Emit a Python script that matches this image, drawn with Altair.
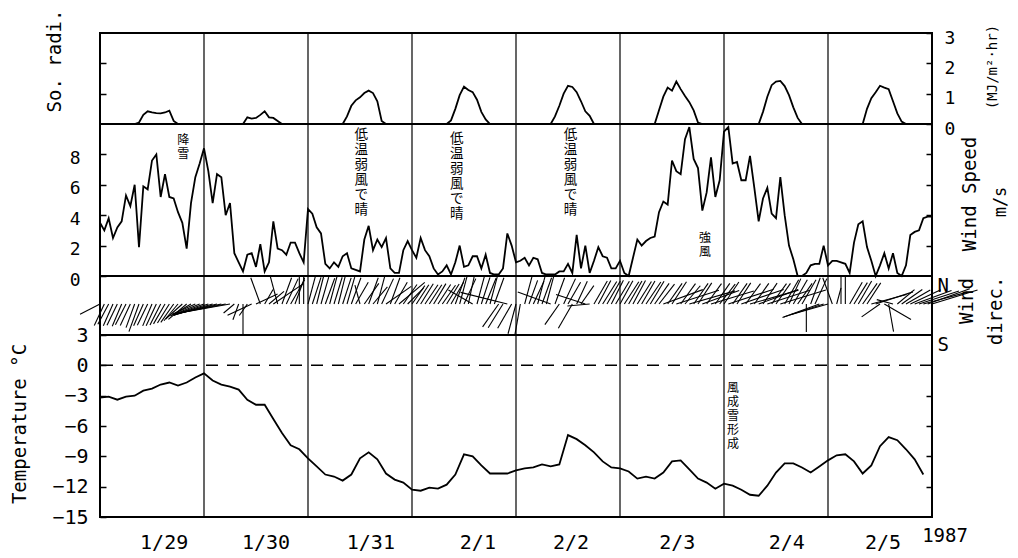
import altair as alt
import numpy as np
import pandas as pd

# ------------------------------------------------------------------ data
# hourly wind speed (m/s), hour 0 = 1/29 00:00 ... hour 192 = 2/6 00:00
wind_speed = [
    3.5, 3.0, 3.8, 2.5, 3.2, 3.6, 5.3, 4.6, 6.0, 1.9, 5.9, 5.7, 7.6, 8.0, 5.2, 6.7, 5.2, 5.1, 4.2, 3.5, 1.8, 4.8, 6.5, 7.4, 8.4,
    6.9, 4.8, 6.7, 6.5, 4.0, 4.8, 1.5, 0.9, 0.3, 1.4, 1.5, 0.6, 2.1, 0.3, 0.9, 3.6, 1.8, 1.7, 1.4, 2.2, 2.2, 1.5, 0.9, 4.4,
    4.1, 3.2, 2.8, 0.8, 0.5, 0.9, 0.6, 1.3, 1.5, 0.5, 0.4, 0.3, 2.4, 3.3, 1.7, 2.4,
    1.9, 2.5, 0.5, 0.2, 0.2, 1.7, 2.3, 1.7, 1.2, 2.5, 1.7, 1.3, 0.5, 0.1, 0.3, 0.7, 0.1, 0.9, 2.0, 0.6, 0.7, 1.3, 1.3, 0.5,
    1.4, 0.2, 0.1, 0.1, 0.5, 2.8, 2.0, 0.9,
    1.0, 1.2, 0.7, 1.2, 1.1, 0.2, 0.1, 0.1, 0.1, 0.3, 0.3, 0.8, 0.2, 2.7, 0.5, 2.0, 0.2, 1.0, 1.9, 1.3, 1.2, 0.5, 0.5, 1.0,
    0.2, 0.0, 1.2, 2.4, 2.0, 2.3, 2.5, 2.6,
    4.2, 4.9, 4.7, 7.6, 6.9, 6.7, 9.0, 9.8, 7.7, 7.1, 4.3, 5.5, 7.8, 5.2, 6.3, 9.5, 9.8, 7.4, 7.5, 6.3, 6.3, 7.9, 5.8, 3.6,
    5.1, 5.8, 4.1, 3.8, 6.5, 4.0, 2.0, 1.1,
    0.0, 0.0, 0.2, 0.7, 0.8, 0.8, 2.0, 0.7, 1.0, 1.0, 0.9, 0.8, 0.2, 2.2, 3.4, 3.6, 1.9, 1.0, 0.0, 0.7, 1.5, 0.5, 1.5, 0.2,
    0.0, 0.7, 2.7, 2.9, 3.0, 3.8, 3.9, 3.9,
]
hours = list(range(len(wind_speed)))

# temperature (deg C) every 2 hours
temp_hours = list(range(0, 191, 2))
temperature = [
    -3.2, -3.1, -3.4, -3.1, -3.0, -2.5, -2.3, -1.9, -1.7, -2.0,
    -1.7, -1.2, -0.8, -1.5, -1.9, -2.1, -2.4, -3.4, -3.9, -3.9,
    -5.3, -6.7, -7.9, -8.3, -9.2, -10.0, -10.8, -11.0, -11.4, -10.8,
    -9.2, -8.6, -9.3, -10.7, -11.3, -11.6, -12.3, -12.4, -12.1, -12.2,
    -11.8, -10.8, -8.8, -9.0, -9.9, -10.7, -10.7, -10.7, -10.4, -10.2,
    -10.1, -9.8, -10.0, -9.8, -6.9, -7.3, -7.9, -8.6, -9.5, -10.1,
    -10.2, -10.5, -11.2, -11.0, -11.2, -10.6, -9.5, -9.4, -10.3, -11.2,
    -11.6, -12.2, -11.7, -11.9, -12.3, -12.8, -12.9, -11.9, -10.6, -9.7,
    -9.7, -10.1, -10.6, -10.0, -9.4, -8.9, -8.8, -9.5, -10.7, -9.9,
    -8.0, -7.1, -7.4, -8.3, -9.3, -10.8,
]

# solar radiation (MJ/m2/hr): daytime hourly values, zero otherwise
solar_day_start = [8, 33, 56, 80, 104, 128, 152, 176]
solar_day_values = [
    [0, 0.05, 0.30, 0.42, 0.38, 0.36, 0.35, 0.38, 0.44, 0.10, 0],
    [0, 0.22, 0.18, 0.20, 0.30, 0.42, 0.22, 0.20, 0.10, 0],
    [0, 0.25, 0.60, 0.78, 0.88, 1.02, 1.10, 1.02, 0.75, 0.10, 0],
    [0, 0.12, 0.50, 0.95, 1.23, 1.12, 1.05, 0.80, 0.40, 0.15, 0],
    [0, 0.25, 0.60, 1.00, 1.26, 1.22, 1.05, 0.75, 0.42, 0.27, 0],
    [0, 0.45, 0.90, 1.20, 1.10, 1.40, 1.15, 0.92, 0.72, 0.45, 0.05, 0],
    [0, 0.40, 0.90, 1.28, 1.40, 1.42, 1.25, 0.95, 0.55, 0.20, 0],
    [0, 0.50, 0.85, 1.05, 1.26, 1.20, 1.15, 0.75, 0.35, 0.08, 0],
]

# wind direction sticks: bearing of stick (deg, 0 = N up, 90 = right) and stick length
wind_dir_deg = [
    243, 205, 208, 204, 206, 203, 207, 205, 200, 200,
    204, 206, 203, 205, 207, 210, 212, 215, 220, 228,
    230, 240, 246, 248, 250, 252, 254, 256, 258, 259,
    260, 230, 200, 180, 215, 245, 65, 340, 30, 50,
    56, 345, 20, 25, 30, 20, 0, 0, 15, 18,
    14, 16, 20, 15, 17, 14, 18, 16, 20, 30,
    345, 35, 20, 40, 15, 25, 55, 20, 30, 50,
    35, 45, 35, 33, 32, 34, 33, 31, 33, 35,
    32, 30, 20, 15, 25, 12, 300, 15, 18, 22,
    15, 20, 215, 212, 284, 210, 195, 190, 15, 20,
    25, 15, 20, 15, 290, 20, 215, 25, 30, 210,
    25, 35, 288, 265, 30, 28, 32, 30, 27, 31,
    29, 33, 30, 28, 32, 30, 34, 31, 35, 38,
    70, 35, 33, 72, 36, 40, 74, 35, 33, 70,
    36, 73, 35, 38, 34, 72, 35, 33, 71, 36,
    74, 35, 70, 34, 72, 36, 35, 73, 30, 25,
    30, 35, 30, 180, 20, 25, 250, 252, 254, 340,
    15, 0, 0, 30, 32, 30, 35, 33, 75, 72,
    235, 120, 170, 285, 50, 55, 60, 65, 70, 72,
    75, 70, 73,
]
stick_length = [
    0.8, 0.85, 0.82, 0.85, 0.84, 0.86, 0.83, 0.85, 0.9, 1.05,
    0.85, 0.84, 0.85, 0.86, 0.84, 0.82, 0.8, 0.8, 0.78, 0.8,
    0.85, 0.85, 0.9, 1.0, 1.15, 1.3, 1.45, 1.6, 1.75, 1.9,
    2.0, 0.5, 0.6, 1.1, 0.5, 0.95, 0.85, 1.0, 0.6, 0.7,
    1.3, 1.0, 1.0, 1.0, 1.0, 1.0, 1.0, 1.0, 1.0, 1.0,
    1.0, 1.0, 0.98, 1.0, 1.0, 1.0, 0.98, 1.0, 1.0, 0.9,
    0.7, 0.9, 1.0, 0.8, 1.0, 1.0, 1.1, 1.0, 0.9, 1.2,
    0.85, 0.8, 0.8, 0.82, 0.85, 0.83, 0.82, 0.85, 0.83, 0.82,
    0.84, 0.9, 1.0, 1.02, 1.0, 1.02, 1.0, 1.02, 1.0, 1.0,
    1.0, 1.0, 1.0, 1.0, 1.72, 1.0, 1.1, 1.1, 1.0, 0.9,
    0.9, 1.0, 1.0, 1.0, 1.25, 1.0, 0.9, 1.0, 0.9, 1.0,
    0.9, 0.8, 1.1, 0.8, 0.95, 0.95, 0.95, 0.95, 0.95, 0.95,
    0.95, 0.95, 0.95, 0.95, 0.95, 0.95, 0.95, 0.95, 0.9, 0.9,
    1.5, 0.9, 0.95, 1.6, 0.9, 0.85, 1.7, 0.9, 0.9, 1.4,
    0.9, 1.6, 0.9, 0.9, 0.95, 1.7, 0.9, 0.9, 1.6, 0.9,
    1.8, 0.9, 1.5, 0.9, 1.6, 0.9, 0.9, 1.7, 1.0, 1.0,
    1.0, 0.9, 1.0, 1.0, 1.0, 1.0, 1.4, 1.5, 1.4, 1.0,
    0.6, 1.0, 1.0, 0.9, 0.9, 0.95, 0.9, 0.9, 1.3, 1.4,
    0.8, 1.1, 1.0, 0.6, 0.8, 0.9, 1.0, 1.2, 1.4, 1.5,
    1.6, 1.6, 1.7,
]

day_bounds = [24, 48, 72, 96, 120, 144, 168]
four_hour_ticks = [h for h in range(4, 192, 4) if h % 24 != 0]
date_labels = ["1/29", "1/30", "1/31", "2/1", "2/2", "2/3", "2/4", "2/5"]
date_label_hours = [14.8, 38.3, 62.5, 87.2, 108.7, 133.2, 158.5, 180.7]

calm_notes = ["低\n温\n弱\n風\nで\n晴"] * 3
calm_note_hours = [60.3, 82.3, 108.6]
calm_note_tops = [9.75, 9.45, 9.75]
other_notes = ["降\n雪", "強\n風"]
other_note_hours = [19.2, 139.6]
other_note_tops = [9.3, 2.8]
snow_note = ["風\n成\n雪\n形\n成"]
snow_note_hours = [146.1]
snow_note_tops = [-1.7]

# ------------------------------------------------------------------ frames
W = 832
H_SOL, H_WS, H_DIR, H_T = 91, 152, 59, 182
MONO = "DejaVu Sans Mono"
JP = "Noto Sans CJK JP"
LW = 1.8

sol = np.zeros(len(hours))
for s, vals in zip(solar_day_start, solar_day_values):
    sol[s:s + len(vals)] = vals
df_sol = pd.DataFrame({"h": hours, "v": sol})
df_ws = pd.DataFrame({"h": hours, "v": wind_speed})
df_t = pd.DataFrame({"h": temp_hours, "v": temperature})
df_days = pd.DataFrame({"h": day_bounds})

PX_PER_H = W / 192.0
UNIT_PX = 28.0
th = np.radians(np.array(wind_dir_deg, dtype=float))
L = np.array(stick_length, dtype=float)
df_dir = pd.DataFrame({
    "h": hours,
    "y0": 0.0,
    "xe": np.array(hours) + L * np.sin(th) * UNIT_PX / PX_PER_H,
    "ye": L * np.cos(th),
})
DIR_DOM = [-31.0 / 28.0, 1.0]

XS = alt.Scale(domain=[0, 192], nice=False, zero=False)


def xq(field="h", axis=None):
    return alt.X(f"{field}:Q", scale=XS, axis=axis)


AX = dict(domain=False, grid=False, title=None, tickColor="black", tickWidth=1.5,
          labelFont=MONO, labelColor="black")


def day_rules():
    return alt.Chart(df_days).mark_rule(color="black", strokeWidth=1.2).encode(x=xq())


def label(txt, x, y, size=19, angle=0, font=MONO):
    return alt.Chart(pd.DataFrame({"t": [txt]})).mark_text(
        angle=angle, font=font, fontSize=size, color="black", align="center", baseline="middle"
    ).encode(x=alt.value(x), y=alt.value(y), text="t:N")


# ------------------------------------------------------------------ solar panel
sol_scale = alt.Scale(domain=[0, 3], nice=False)
top_axis = alt.Axis(orient="top", values=four_hour_ticks, tickSize=5, offset=-5, labels=False, **AX)
sol_line = alt.Chart(df_sol).mark_line(color="black", strokeWidth=LW).encode(
    x=xq(axis=top_axis),
    y=alt.Y("v:Q", scale=sol_scale,
            axis=alt.Axis(orient="left", values=[1, 2], labels=False, tickSize=6, offset=-6, **AX)),
)
sol_right = alt.Chart(df_sol).mark_line(opacity=0).encode(
    x=xq(),
    y=alt.Y("v:Q", scale=sol_scale,
            axis=alt.Axis(orient="right", values=[0, 1, 2, 3], tickSize=6, offset=-6, labelPadding=12,
                          labelFontSize=18, labelOffset=5, **AX)),
)
solar_panel = alt.layer(
    day_rules(), sol_line, sol_right,
    label("So. radi.", -45, 28, size=19, angle=270),
    label("(MJ/m²·hr)", 893, 34, size=14, angle=270),
).properties(width=W, height=H_SOL)

# ------------------------------------------------------------------ wind speed panel
ws_scale = alt.Scale(domain=[0, 10], nice=False)
ws_line = alt.Chart(df_ws).mark_line(color="black", strokeWidth=LW).encode(
    x=xq(),
    y=alt.Y("v:Q", scale=ws_scale,
            axis=alt.Axis(orient="left", values=[0, 2, 4, 6, 8], tickSize=6, offset=-6, labelPadding=20,
                          labelFontSize=18, labelOffset=4, **AX)),
)
ws_right = alt.Chart(df_ws).mark_line(opacity=0).encode(
    x=xq(),
    y=alt.Y("v:Q", scale=ws_scale,
            axis=alt.Axis(orient="right", values=[2, 4, 6, 8], labels=False, tickSize=6, offset=-6, **AX)),
)
df_calm = pd.DataFrame({"h": calm_note_hours, "y": calm_note_tops, "t": calm_notes})
calm_text = alt.Chart(df_calm).mark_text(
    font=JP, fontSize=13.5, lineHeight=15, lineBreak="\n", baseline="top", align="center", color="black"
).encode(x=xq(), y=alt.Y("y:Q", scale=ws_scale, axis=None), text="t:N")
df_other = pd.DataFrame({"h": other_note_hours, "y": other_note_tops, "t": other_notes})
other_text = alt.Chart(df_other).mark_text(
    font=JP, fontSize=12, lineHeight=14, lineBreak="\n", baseline="top", align="center", color="black"
).encode(x=xq(), y=alt.Y("y:Q", scale=ws_scale, axis=None), text="t:N")
ws_panel = alt.layer(
    day_rules(), ws_line, ws_right, calm_text, other_text,
    label("Wind Speed", 870, 70, size=19, angle=270),
    label("m/s", 901, 78, size=17, angle=270),
).properties(width=W, height=H_WS)

# ------------------------------------------------------------------ wind direction panel
dir_scale = alt.Scale(domain=DIR_DOM, nice=False, zero=False)
sticks = alt.Chart(df_dir).mark_rule(color="black", strokeWidth=1.1).encode(
    x=xq(),
    x2="xe:Q",
    y=alt.Y("y0:Q", scale=dir_scale,
            axis=alt.Axis(orient="right", values=[1.0, DIR_DOM[0]], ticks=False, labelPadding=5,
                          labelFontSize=19, labelBaseline="top",
                          labelExpr="datum.value > 0 ? 'N' : 'S'", **AX)),
    y2="ye:Q",
)
dir_panel = alt.layer(
    day_rules(), sticks,
    label("Wind", 867, 25, size=19, angle=270),
    label("direc.", 896, 35, size=19, angle=270),
).properties(width=W, height=H_DIR)

# ------------------------------------------------------------------ temperature panel
t_scale = alt.Scale(domain=[-15, 3], nice=False, zero=False)
bottom_axis = alt.Axis(orient="bottom", values=four_hour_ticks, tickSize=7, offset=-7, labels=False, **AX)
t_line = alt.Chart(df_t).mark_line(color="black", strokeWidth=LW).encode(
    x=xq(axis=bottom_axis),
    y=alt.Y("v:Q", scale=t_scale,
            axis=alt.Axis(orient="left", values=[3, 0, -3, -6, -9, -12, -15], tickSize=6, offset=-6,
                          labelPadding=12, labelFontSize=20, **AX)),
)
t_right = alt.Chart(df_t).mark_line(opacity=0).encode(
    x=xq(),
    y=alt.Y("v:Q", scale=t_scale,
            axis=alt.Axis(orient="right", values=[-12, -9, -6, -3], labels=False, tickSize=6, offset=-6, **AX)),
)
freeze = alt.Chart(pd.DataFrame({"z": [0.0]})).mark_rule(
    color="black", strokeWidth=1.5, strokeDash=[12, 9]
).encode(y=alt.Y("z:Q", scale=t_scale, axis=None))
df_snow = pd.DataFrame({"h": snow_note_hours, "y": snow_note_tops, "t": snow_note})
snow_text = alt.Chart(df_snow).mark_text(
    font=JP, fontSize=12, lineHeight=14, lineBreak="\n", baseline="top", align="center", color="black"
).encode(x=xq(), y=alt.Y("y:Q", scale=t_scale, axis=None), text="t:N")
df_dates = pd.DataFrame({"h": date_label_hours, "t": date_labels})
date_text = alt.Chart(df_dates).mark_text(
    font=MONO, fontSize=20, baseline="middle", align="center", color="black"
).encode(x=xq(), y=alt.value(H_T + 26), text="t:N")
temp_panel = alt.layer(
    day_rules(), freeze, t_line, t_right, snow_text, date_text,
    label("Temperature °C", -80, 89, size=19, angle=270),
    label("1987", 845, H_T + 19, size=19),
).properties(width=W, height=H_T)

chart = alt.vconcat(solar_panel, ws_panel, dir_panel, temp_panel, spacing=0, bounds="flush").properties(
    padding={"left": 2, "top": 0, "right": 0, "bottom": 0},
    background="white",
).configure_view(stroke="black", strokeWidth=2)

chart.save("out.html", embed_options={"renderer": "svg", "actions": False})
